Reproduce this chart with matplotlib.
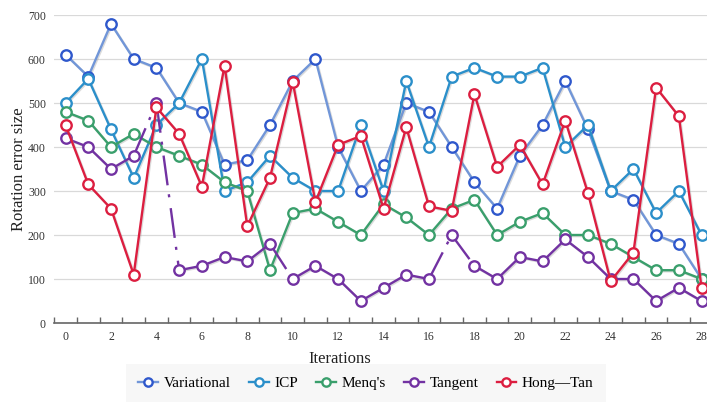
import numpy as np
import matplotlib.pyplot as plt
from matplotlib.lines import Line2D
import matplotlib.patheffects as pe

plt.rcParams['font.family'] = ['Liberation Serif', 'DejaVu Serif']
plt.rcParams['lines.scale_dashes'] = False

# data
iterations = np.arange(29)
variational = [610, 560, 680, 600, 580, 500, 480, 360, 370, 450, 550, 600, 400, 300, 360,
               500, 480, 400, 320, 260, 380, 450, 550, 440, 300, 280, 200, 180, 100]
icp = [500, 555, 440, 330, 450, 500, 600, 300, 320, 380, 330, 300, 300, 450, 300,
       550, 400, 560, 580, 560, 560, 580, 400, 450, 300, 350, 250, 300, 200]
menq = [480, 460, 400, 430, 400, 380, 360, 320, 300, 120, 250, 260, 230, 200, 270,
        240, 200, 260, 280, 200, 230, 250, 200, 200, 180, 150, 120, 120, 100]
tangent = [420, 400, 350, 380, 500, 120, 130, 150, 140, 180, 100, 130, 100, 50, 80,
           110, 100, 200, 130, 100, 150, 140, 190, 150, 100, 100, 50, 80, 50]
hong_tan = [450, 315, 260, 110, 490, 430, 310, 585, 220, 330, 548, 275, 405, 425, 260,
            445, 265, 255, 520, 355, 405, 315, 460, 295, 95, 160, 535, 470, 80]

# tangent links (start index) drawn dash-dot in the original
tangent_dashed = [3, 4, 9, 16, 17]

names = ['Variational', 'ICP', "Menq's", 'Tangent', 'Hong\u2014Tan']
line_colors = ['#7196d8', '#2b8fca', '#3a9f6c', '#7232a2', '#dc1e40']
edge_colors = ['#2f58cc', '#2b8fca', '#3a9f6c', '#7232a2', '#dc1e40']

W, H = 707, 403
fig = plt.figure(figsize=(W / 100, H / 100), dpi=100)
x0, x1 = 54.2, 712.9
y0, y1 = 323, 15
ax = fig.add_axes([x0 / W, 1 - y0 / H, (x1 - x0) / W, (y0 - y1) / H])
ax.set_xlim(-0.5, 28.5)
ax.set_ylim(0, 700)

shadow = [pe.SimpleLineShadow(offset=(0.8, -0.8), shadow_color='#999999', alpha=0.35), pe.Normal()]
lw = 1.7
ms = 7.5
mew = 1.7

series = [variational, icp, menq, tangent, hong_tan]
handles = []
for i, (vals, name) in enumerate(zip(series, names)):
    vals = np.array(vals, dtype=float)
    if name == 'Tangent':
        # break the solid line at dashed links
        xs, ys = [], []
        for k in range(len(vals)):
            xs.append(iterations[k]); ys.append(vals[k])
            if k in tangent_dashed:
                xs.append(np.nan); ys.append(np.nan)
        ax.plot(xs, ys, color=line_colors[i], lw=lw, zorder=2 + i, path_effects=shadow,
                solid_capstyle='round')
        for k in tangent_dashed:
            ax.plot(iterations[k:k + 2], vals[k:k + 2], color=line_colors[i], lw=lw,
                    dashes=[21.6, 6.5, 2.2, 7.9], zorder=2 + i)
    else:
        ax.plot(iterations, vals, color=line_colors[i], lw=lw, zorder=2 + i, path_effects=shadow)
    ax.plot(iterations, vals, ls='none', marker='o', ms=ms, mfc='white', mec=edge_colors[i],
            mew=mew, zorder=2.5 + i)
    handles.append(Line2D([0], [0], color=line_colors[i], lw=lw, marker='o', ms=6,
                          mfc='white', mec=edge_colors[i], mew=mew))

ax.set_yticks(np.arange(0, 701, 100))
ax.yaxis.grid(True, color='#d9d9d9', lw=0.9)
ax.set_axisbelow(True)
ax.tick_params(axis='y', length=0, labelsize=8.5, pad=6, labelcolor='#333333')

ax.set_xticks(np.arange(0, 29, 2))
ax.set_xticks(np.arange(-0.5, 28.6, 1), minor=True)
ax.tick_params(axis='x', which='major', length=0, labelsize=8.5, pad=6, labelcolor='#333333')
ax.tick_params(axis='x', which='minor', direction='in', length=4, width=1, color='#666666')

for s in ['top', 'right', 'left']:
    ax.spines[s].set_visible(False)
ax.spines['bottom'].set_color('#666666')
ax.spines['bottom'].set_linewidth(1.2)

ax.set_xlabel('Iterations', fontsize=12, color='#222222')
ax.xaxis.set_label_coords((340 - x0) / (x1 - x0), -(351 - y0) / (y0 - y1))
ax.set_ylabel('Rotation error size', fontsize=12, color='#222222')
ax.yaxis.set_label_coords((27 - x0) / (x1 - x0), 0.5)

leg = fig.legend(handles, names, loc='center', bbox_to_anchor=(366 / W, 1 - 383 / H), ncol=5,
                 fontsize=11, frameon=True, handlelength=1.3, handletextpad=0.35, columnspacing=1.2,
                 borderpad=0.8, borderaxespad=0)
leg.get_frame().set_facecolor('#f6f6f6')
leg.get_frame().set_edgecolor('none')
leg.get_frame().set_boxstyle('square', pad=0)

fig.savefig('out.png', dpi=100)
